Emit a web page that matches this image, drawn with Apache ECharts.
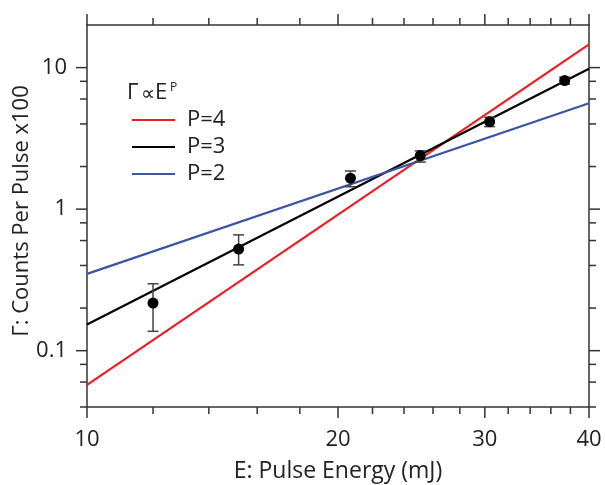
<!DOCTYPE html>
<html><head><meta charset="utf-8">
<script src="https://cdn.jsdelivr.net/npm/echarts@6/dist/echarts.min.js"></script>
<style>html,body{margin:0;padding:0;background:#fff}#c{width:605px;height:485px}</style>
</head><body><div id="c"></div>
<script>
// ---- data ----
const energy  = [12.0, 15.2, 20.7, 25.1, 30.4, 37.4];
const counts  = [0.217, 0.522, 1.655, 2.39, 4.15, 8.1];
const errLow  = [0.137, 0.404, 1.44, 2.15, 3.83, 7.64];
const errHigh = [0.297, 0.658, 1.86, 2.58, 4.46, 8.56];

const fitNames = ['P=4', 'P=3', 'P=2'];
const fitX  = [10, 40];
const fitP4 = [0.0574, 14.6];
const fitP3 = [0.153, 9.8];
const fitP2 = [0.349, 5.6];

const xRange = [10, 40];
const yRange = [0.04, 20];
const xMajor = [10, 20, 30, 40];
const xMajorLabels = ['10', '20', '30', '40'];
const xMinor = [12, 14, 16, 18, 22, 24, 26, 28, 32, 34, 36, 38];
const yMajor = [0.1, 1, 10];
const yMajorLabels = ['0.1', '1', '10'];
const yMinor = [0.04, 0.06, 0.08, 0.2, 0.4, 0.6, 0.8, 2, 4, 6, 8];

const xTitle = 'E: Pulse Energy (mJ)';
const yTitle = 'Γ: Counts Per Pulse x100';
const legendTitleParts = ['Γ', '∝', 'E'];
const legendSup = 'P';

// ---- styles ----
const FONT = '"Open Sans", "Noto Sans", "DejaVu Sans", sans-serif';
const AX = '#333';
const TXT = '#222';
const fitColors = ['#ee1d23', '#000000', '#3b54a3'];
const MAJ = 11, MIN = 7;

const chart = echarts.init(document.getElementById('c'), null, {renderer: 'canvas'});

const hiddenAxis = (extra) => Object.assign({
  axisLine: {show: true, lineStyle: {color: AX, width: 1.5}},
  axisTick: {show: false}, axisLabel: {show: false}, splitLine: {show: false}
}, extra);

function xTickItem(params, api) {
  const v = api.value(0), major = api.value(2), li = api.value(3);
  const b = api.coord([v, yRange[0]]), t = api.coord([v, yRange[1]]);
  const len = major ? MAJ : MIN;
  const ch = [
    {type: 'line', shape: {x1: b[0], y1: b[1], x2: b[0], y2: b[1] + len}, style: {stroke: AX, lineWidth: 1.5}},
    {type: 'line', shape: {x1: t[0], y1: t[1], x2: t[0], y2: t[1] - len}, style: {stroke: AX, lineWidth: 1.5}}
  ];
  if (major) ch.push({type: 'text', x: b[0], y: b[1] + 33,
    style: {text: xMajorLabels[li], fontSize: 22, fontFamily: FONT, fill: TXT, align: 'center', verticalAlign: 'middle'}});
  return {type: 'group', children: ch};
}
function yTickItem(params, api) {
  const v = api.value(1), major = api.value(2), li = api.value(3);
  const l = api.coord([xRange[0], v]), r = api.coord([xRange[1], v]);
  const len = major ? MAJ : MIN;
  const ch = [
    {type: 'line', shape: {x1: l[0], y1: l[1], x2: l[0] - len, y2: l[1]}, style: {stroke: AX, lineWidth: 1.5}},
    {type: 'line', shape: {x1: r[0], y1: r[1], x2: r[0] + len, y2: r[1]}, style: {stroke: AX, lineWidth: 1.5}}
  ];
  if (major) ch.push({type: 'text', x: l[0] - 20, y: l[1],
    style: {text: yMajorLabels[li], fontSize: 22, fontFamily: FONT, fill: TXT, align: 'right', verticalAlign: 'middle'}});
  return {type: 'group', children: ch};
}
function errItem(params, api) {
  const x = api.value(0);
  const lo = api.coord([x, api.value(1)]), hi = api.coord([x, api.value(2)]);
  const w = 5.5, st = {stroke: '#444', lineWidth: 1.5};
  return {type: 'group', children: [
    {type: 'line', shape: {x1: lo[0], y1: lo[1], x2: hi[0], y2: hi[1]}, style: st},
    {type: 'line', shape: {x1: lo[0] - w, y1: lo[1], x2: lo[0] + w, y2: lo[1]}, style: st},
    {type: 'line', shape: {x1: hi[0] - w, y1: hi[1], x2: hi[0] + w, y2: hi[1]}, style: st}
  ]};
}

const fits = [fitP4, fitP3, fitP2];
const titleX = [127, 141, 155];

const option = {
  animation: false,
  backgroundColor: '#fff',
  grid: {left: 87, right: 16, top: 25, bottom: 78, containLabel: false, outerBoundsMode: 'none'},
  xAxis: [
    hiddenAxis({type: 'log', logBase: 10, min: xRange[0], max: xRange[1], position: 'bottom'}),
    hiddenAxis({type: 'log', logBase: 10, min: xRange[0], max: xRange[1], position: 'top'})
  ],
  yAxis: [
    hiddenAxis({type: 'log', logBase: 10, min: yRange[0], max: yRange[1], position: 'left'}),
    hiddenAxis({type: 'log', logBase: 10, min: yRange[0], max: yRange[1], position: 'right'})
  ],
  legend: {
    data: fitNames, orient: 'vertical', left: 132, top: 109, padding: 0,
    icon: 'rect', itemWidth: 43, itemHeight: 2.2, itemGap: 5,
    textStyle: {fontSize: 22, lineHeight: 22, color: TXT, fontFamily: FONT, padding: [0, 0, 0, 7]}
  },
  graphic: [
    ...legendTitleParts.map((t, i) => ({type: 'text', left: titleX[i], top: i === 1 ? 84 : 82,
      style: {text: t, fontSize: i === 1 ? 20 : 22, fontFamily: FONT, fill: TXT}})),
    {type: 'text', left: 170, top: 82, style: {text: legendSup, fontSize: 12, fontFamily: FONT, fill: TXT}},
    {type: 'text', x: 338, y: 471, style: {text: xTitle, fontSize: 23, fontFamily: FONT, fill: TXT, align: 'center', verticalAlign: 'middle'}},
    {type: 'text', x: 22, y: 211, rotation: Math.PI / 2, style: {text: yTitle, fontSize: 22, fontFamily: FONT, fill: TXT, align: 'center', verticalAlign: 'middle'}}
  ],
  series: [
    ...fitNames.map((n, k) => ({
      name: n, type: 'line', showSymbol: false, symbol: 'none', silent: true, z: 3,
      color: fitColors[k], itemStyle: {color: fitColors[k]},
      lineStyle: {color: fitColors[k], width: 2.2},
      data: fitX.map((x, i) => [x, fits[k][i]])
    })),
    {
      type: 'custom', name: 'err', clip: false, silent: true, z: 4,
      renderItem: errItem, encode: {x: 0, y: [1, 2]},
      data: energy.map((e, i) => [e, errLow[i], errHigh[i]])
    },
    {
      type: 'scatter', name: 'data', symbol: 'circle', symbolSize: 11, silent: true, z: 5,
      itemStyle: {color: '#000', opacity: 1},
      data: energy.map((e, i) => [e, counts[i]])
    },
    {
      type: 'custom', name: 'xticks', clip: false, silent: true, z: 6,
      renderItem: xTickItem, encode: {x: 0, y: 1},
      data: xMajor.map((v, i) => [v, 1, 1, i]).concat(xMinor.map(v => [v, 1, 0, -1]))
    },
    {
      type: 'custom', name: 'yticks', clip: false, silent: true, z: 6,
      renderItem: yTickItem, encode: {x: 0, y: 1},
      data: yMajor.map((v, i) => [20, v, 1, i]).concat(yMinor.map(v => [20, v, 0, -1]))
    }
  ]
};
chart.setOption(option);
</script>
</body></html>
